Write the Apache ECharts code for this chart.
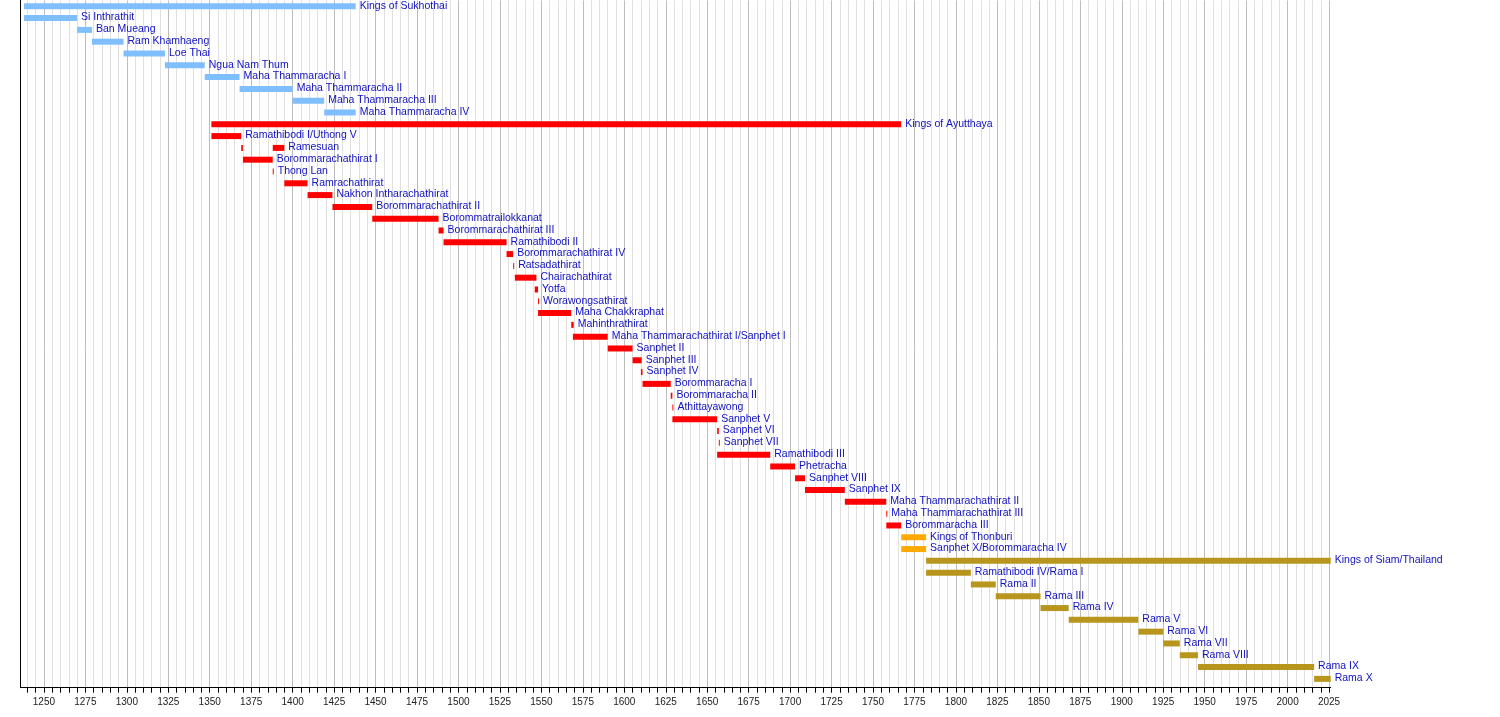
<!DOCTYPE html>
<html>
<head>
<meta charset="utf-8">
<script src="https://cdn.jsdelivr.net/npm/echarts@6/dist/echarts.min.js"></script>
<style>
html,body{margin:0;padding:0;background:#fff;}
#chart{width:1500px;height:717px;}
</style>
</head>
<body>
<div id="chart"></div>
<script>
// ---- data ----
const rowNames = [
  'Kings of Sukhothai','Si Inthrathit','Ban Mueang','Ram Khamhaeng','Loe Thai','Ngua Nam Thum',
  'Maha Thammaracha I','Maha Thammaracha II','Maha Thammaracha III','Maha Thammaracha IV',
  'Kings of Ayutthaya','Ramathibodi I/Uthong V','Ramesuan','Borommarachathirat I','Thong Lan',
  'Ramrachathirat','Nakhon Intharachathirat','Borommarachathirat II','Borommatrailokkanat',
  'Borommarachathirat III','Ramathibodi II','Borommarachathirat IV','Ratsadathirat','Chairachathirat',
  'Yotfa','Worawongsathirat','Maha Chakkraphat','Mahinthrathirat','Maha Thammarachathirat I/Sanphet I',
  'Sanphet II','Sanphet III','Sanphet IV','Borommaracha I','Borommaracha II','Athittayawong',
  'Sanphet V','Sanphet VI','Sanphet VII','Ramathibodi III','Phetracha','Sanphet VIII','Sanphet IX',
  'Maha Thammarachathirat II','Maha Thammarachathirat III','Borommaracha III',
  'Kings of Thonburi','Sanphet X/Borommaracha IV',
  'Kings of Siam/Thailand','Ramathibodi IV/Rama I','Rama II','Rama III','Rama IV','Rama V',
  'Rama VI','Rama VII','Rama VIII','Rama IX','Rama X'
];
const reignStart = [
  1238,1238,1270,1279,1298,1323,1347,1368,1400,1419,
  1351,1351,1388,1370,1388,1395,1409,1424,1448,1488,1491,1529,1533,1534,1546,1548,1548,1568,1569,
  1590,1605,1610,1611,1628,1629,1629,1656,1657,1656,1688,1703,1709,1733,1758,1758,
  1767,1767,
  1782,1782,1809,1824,1851,1868,1910,1925,1935,1946,2016
];
const reignEnd = [
  1438,1270,1279,1298,1323,1347,1368,1400,1419,1438,
  1767,1369,1395,1388,1388,1409,1424,1448,1488,1491,1529,1533,1533,1547,1548,1548,1568,1569.5,1590,
  1605,1610.5,1611,1628,1629,1629,1656,1657,1657,1688,1703,1709,1733,1758,1758,1767,
  1782,1782,
  2026,1809,1824,1851,1868,1910,1925,1935,1946,2016,2026
];
const dynasty = [
  0,0,0,0,0,0,0,0,0,0,
  1,1,1,1,1,1,1,1,1,1,1,1,1,1,1,1,1,1,1,1,1,1,1,1,1,1,1,1,1,1,1,1,1,1,1,
  2,2,
  3,3,3,3,3,3,3,3,3,3,3
];
// extra (unlabelled) reign segments: Ramesuan's first reign
const extraRow = ['Ramesuan'];
const extraStart = [1369];
const extraEnd = [1370];

const dynastyColors = ['#80bfff', '#ff0000', '#ffaa00', '#b8961e'];
const axisLabelYears = [1250,1275,1300,1325,1350,1375,1400,1425,1450,1475,1500,1525,1550,1575,1600,
  1625,1650,1675,1700,1725,1750,1775,1800,1825,1850,1875,1900,1925,1950,1975,2000,2025];
const axisTickYears = [];
for (let y = 1240; y <= 2025; y += 5) axisTickYears.push(y);

// ---- build items ----
const items = [];
rowNames.forEach((n, i) => {
  items.push({ value: [reignStart[i], reignEnd[i], i], color: dynastyColors[dynasty[i]], label: n });
});
extraRow.forEach((n, k) => {
  const i = rowNames.indexOf(n);
  items.push({ value: [extraStart[k], extraEnd[k], i], color: dynastyColors[dynasty[i]], label: '' });
});

const FONT = "'Liberation Sans', Arial, sans-serif";
const MINOR = '#e0e0e0', MAJOR = '#bdbdbd';

const chart = echarts.init(document.getElementById('chart'), null, { renderer: 'canvas' });
chart.setOption({
  animation: false,
  backgroundColor: '#fff',
  grid: { left: 20.7, right: 169.3, top: 0.4, bottom: 29.3, containLabel: false },
  xAxis: {
    type: 'value',
    position: 'bottom',
    min: 1236,
    max: 2026,
    axisLine: { show: true, onZero: false, lineStyle: { color: '#000', width: 1 } },
    axisTick: { show: true, length: 5, customValues: axisTickYears, lineStyle: { color: '#000' } },
    axisLabel: { show: true, customValues: axisLabelYears, color: '#222', fontSize: 10,
      fontFamily: FONT, margin: 10, formatter: v => String(v) },
    splitLine: { show: true, lineStyle: { color: [MINOR, MINOR, MAJOR, MINOR, MINOR], width: 1 } }
  },
  yAxis: {
    type: 'value',
    inverse: true,
    min: -0.5,
    max: 57.75,
    axisLine: { show: true, onZero: false, lineStyle: { color: '#000', width: 1 } },
    axisTick: { show: false },
    axisLabel: { show: false },
    splitLine: { show: false }
  },
  series: [{
    type: 'custom',
    encode: { x: [0, 1], y: 2 },
    data: items.map(d => d.value),
    renderItem: function (params, api) {
      const it = items[params.dataIndex];
      const p0 = api.coord([api.value(0), api.value(2)]);
      const p1 = api.coord([api.value(1), api.value(2)]);
      const w = Math.max(p1[0] - p0[0], 1);
      const children = [{
        type: 'rect',
        shape: { x: p0[0], y: p0[1] - 3, width: w, height: 6 },
        style: { fill: it.color }
      }];
      if (it.label) {
        children.push({
          type: 'text',
          style: {
            x: p0[0] + w + 4, y: p0[1] - 0.5,
            text: it.label,
            fill: '#1010c0',
            font: '10.5px ' + FONT,
            verticalAlign: 'middle',
            align: 'left'
          }
        });
      }
      return { type: 'group', children: children };
    }
  }]
});
</script>
</body>
</html>
